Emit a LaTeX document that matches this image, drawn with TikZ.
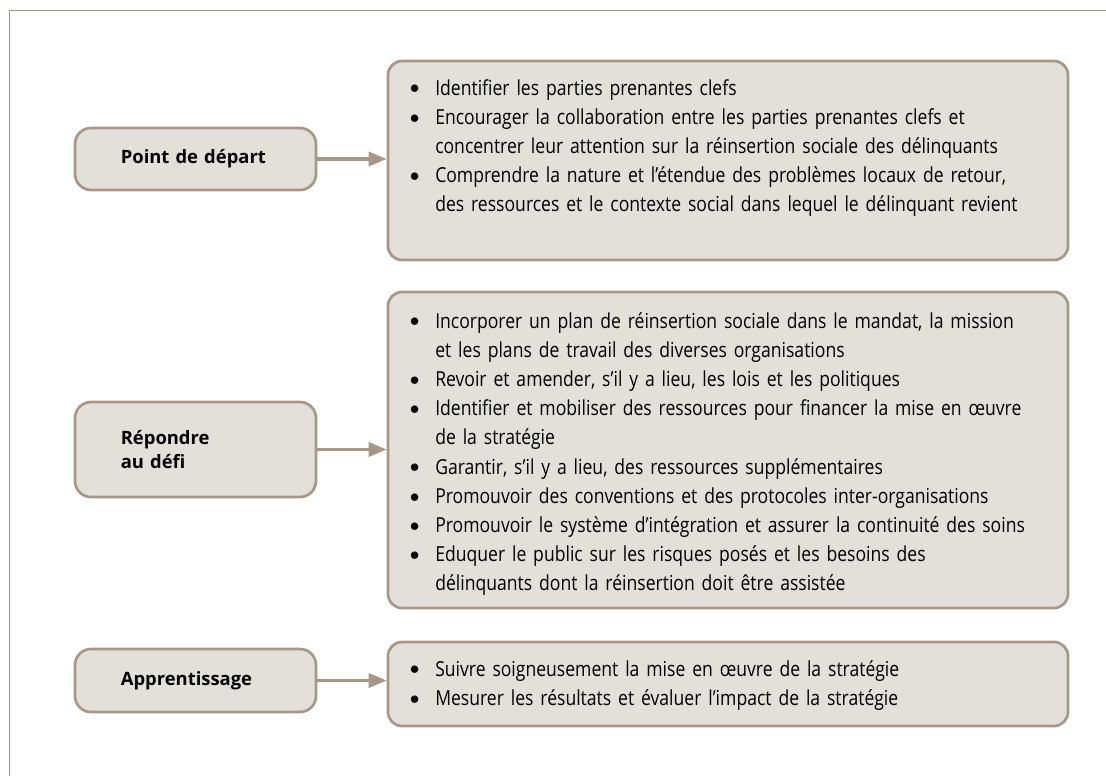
\documentclass[tikz,border=0pt]{standalone}
\usepackage{fontspec}
\setmainfont{Open Sans}
\newfontfamily\bodyfont[FakeStretch=0.85]{Open Sans}
\usetikzlibrary{arrows.meta}
\definecolor{edgecol}{RGB}{168,150,135}
\definecolor{boxfill}{RGB}{227,223,217}
\newcommand\bitem{\makebox[19.5pt][l]{\hspace*{0.5pt}\raisebox{0.8pt}{$\bullet$}}}
\newcommand\bcont{\hspace*{19.5pt}}
\begin{document}
\begin{tikzpicture}[x=0.75pt,y=-0.75pt,
 lbox/.style={draw=edgecol, fill=boxfill, line width=2pt, rounded corners=12pt, minimum width=180.75pt, inner sep=0pt},
 rbox/.style={draw=edgecol, fill=boxfill, line width=2pt, rounded corners=10.5pt, minimum width=510pt, inner sep=0pt},
 lbl/.style={font=\bfseries\fontsize{13.8}{18}\selectfont, text width=112pt, align=left, inner sep=0pt},
 body/.style={font=\bodyfont\fontsize{15.5}{21.9}\selectfont, text width=490pt, align=left, inner sep=0pt, anchor=base west},
 link/.style={draw=edgecol, line width=2.5pt, -{Triangle[length=13.5pt,width=10.5pt]}}]
\useasboundingbox (0,0) rectangle (1106,776);
\draw[edgecol, line width=1.1pt] (1106,10.5) -- (9.5,10.5) -- (9.5,776);

% left boxes
\node[lbox, minimum height=46.5pt] (l1) at (195.5,159) {};
\node[lbox, minimum height=71.25pt] (l2) at (195.5,449.5) {};
\node[lbox, minimum height=47.25pt] (l3) at (195.5,680.5) {};
\node[lbl] (l1t) at (l1.center) {Point de départ};
\node[lbl] (l2t) at (l2.center) {Répondre\\au défi};
\node[lbl] (l3t) at (l3.center) {Apprentissage};

% right boxes
\node[rbox, minimum height=149.25pt] (r1) at (728,160.5) {};
\node[rbox, minimum height=237pt] (r2) at (728,450) {};
\node[rbox, minimum height=63pt] (r3) at (728,684) {};

\node[body] (r1t) at (409,95) {%
\bitem Identifier les parties prenantes clefs\\
\bitem Encourager la collaboration entre les parties prenantes clefs et\\
\bcont concentrer leur attention sur la réinsertion sociale des délinquants\\
\bitem Comprendre la nature et l’étendue des problèmes locaux de retour,\\
\bcont des ressources et le contexte social dans lequel le délinquant revient};

\node[body] (r2t) at (409,328) {%
\bitem Incorporer un plan de réinsertion sociale dans le mandat, la mission\\
\bcont et les plans de travail des diverses organisations\\
\bitem Revoir et amender, s’il y a lieu, les lois et les politiques\\
\bitem Identifier et mobiliser des ressources pour financer la mise en œuvre\\
\bcont de la stratégie\\
\bitem Garantir, s’il y a lieu, des ressources supplémentaires\\
\bitem Promouvoir des conventions et des protocoles inter-organisations\\
\bitem Promouvoir le système d’intégration et assurer la continuité des soins\\
\bitem Eduquer le public sur les risques posés et les besoins des\\
\bcont délinquants dont la réinsertion doit être assistée};

\node[body] (r3t) at (409,676) {%
\bitem Suivre soigneusement la mise en œuvre de la stratégie\\
\bitem Mesurer les résultats et évaluer l’impact de la stratégie};

% connectors
\draw[link] (l1.east) -- (l1.east -| r1.west);
\draw[link] (l2.east) -- (l2.east -| r2.west);
\draw[link] (l3.east) -- (l3.east -| r3.west);
\end{tikzpicture}
\end{document}
